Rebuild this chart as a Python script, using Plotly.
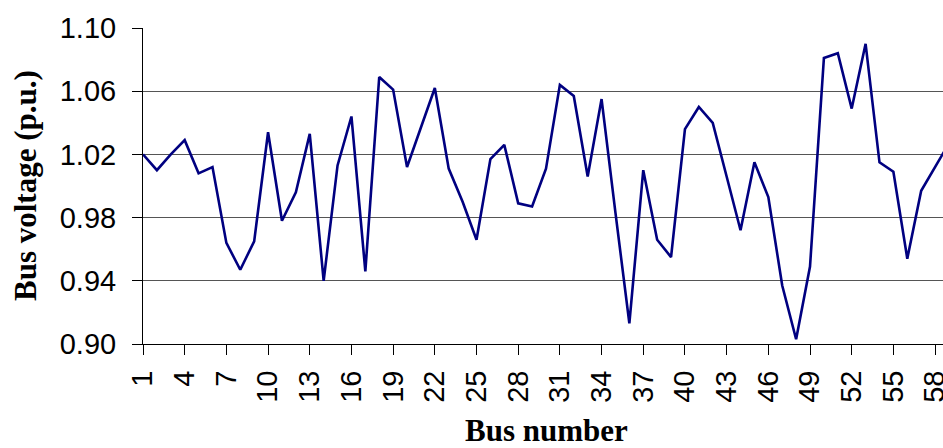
import plotly.graph_objects as go

# Bus voltage profile (p.u.) for buses 1..59
bus_number = list(range(1, 60))
bus_voltage = [
    1.020, 1.010, 1.020, 1.029, 1.008, 1.012, 0.964, 0.947, 0.965, 1.034,
    0.978, 0.996, 1.033, 0.940, 1.013, 1.044, 0.946, 1.069, 1.061, 1.012,
    1.037, 1.062, 1.011, 0.990, 0.966, 1.017, 1.026, 0.989, 0.987, 1.011,
    1.064, 1.057, 1.006, 1.055, 0.983, 0.913, 1.010, 0.966, 0.955, 1.036,
    1.050, 1.040, 1.006, 0.972, 1.015, 0.993, 0.937, 0.903, 0.949, 1.081,
    1.084, 1.049, 1.090, 1.015, 1.009, 0.954, 0.997, 1.012, 1.027,
]
x_tick_values = list(range(1, 59, 3))
y_tick_values = [0.90, 0.94, 0.98, 1.02, 1.06, 1.10]

fig = go.Figure(
    go.Scatter(
        x=bus_number,
        y=bus_voltage,
        mode="lines",
        line=dict(color="#000080", width=2.6),
        cliponaxis=True,
    )
)

tick_font = dict(family="Liberation Sans, Arial, sans-serif", size=29, color="black")
title_font = dict(family="Liberation Serif, Times New Roman, serif", size=31, color="black")

fig.update_layout(
    width=943,
    height=448,
    margin=dict(l=143, r=0, t=28, b=104, autoexpand=False),
    plot_bgcolor="white",
    paper_bgcolor="white",
    showlegend=False,
    xaxis=dict(
        range=[1, 58.57],
        automargin=False,
        tickmode="array",
        tickvals=x_tick_values,
        ticktext=[str(v) for v in x_tick_values],
        tickangle=-90,
        ticks="outside",
        ticklen=10,
        tickcolor="black",
        tickwidth=1,
        ticklabelstandoff=4,
        ticklabeloverflow="allow",
        showline=True,
        linecolor="black",
        linewidth=1,
        showgrid=False,
        zeroline=False,
        tickfont=tick_font,
    ),
    yaxis=dict(
        range=[0.90, 1.10],
        automargin=False,
        tickmode="array",
        tickvals=y_tick_values,
        ticktext=[f"{v:.2f}" for v in y_tick_values],
        ticks="outside",
        ticklen=10,
        tickcolor="black",
        tickwidth=1,
        ticklabelstandoff=10,
        showline=True,
        linecolor="black",
        linewidth=1,
        showgrid=True,
        gridcolor="#555555",
        gridwidth=1,
        zeroline=False,
        tickfont=tick_font,
    ),
    annotations=[
        dict(
            text="<b>Bus voltage (p.u.)</b>",
            xref="paper", yref="paper",
            x=-0.1475, y=0.5,
            xanchor="center", yanchor="middle",
            textangle=-90,
            showarrow=False,
            font=title_font,
        ),
        dict(
            text="<b>Bus number</b>",
            xref="paper", yref="paper",
            x=0.504, y=-0.275,
            xanchor="center", yanchor="middle",
            showarrow=False,
            font=title_font,
        ),
    ],
)

fig.write_html("out.html")
